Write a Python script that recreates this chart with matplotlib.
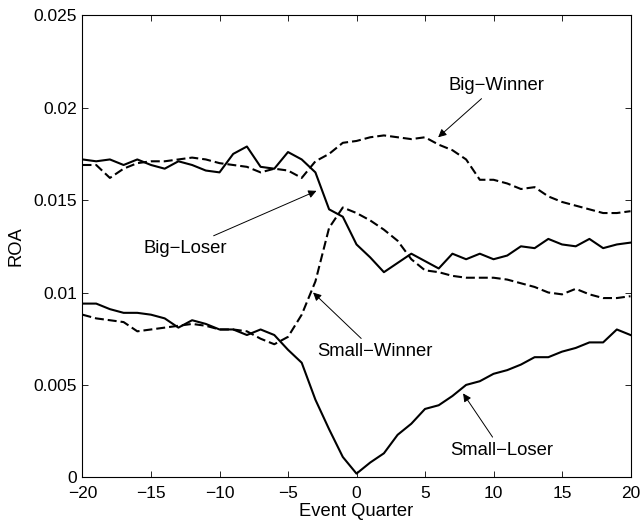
import matplotlib
matplotlib.use("Agg")
import matplotlib.pyplot as plt
import numpy as np

plt.rcParams['font.family'] = ['Liberation Sans', 'DejaVu Sans']
plt.rcParams['font.size'] = 12.5

# event quarters
quarters = np.arange(-20, 21)

# ROA series
big_winner = [0.0169, 0.0169, 0.0162, 0.0167, 0.0170, 0.0171, 0.0171, 0.0172, 0.0173, 0.0172,
              0.0170, 0.0169, 0.0168, 0.0165, 0.0167, 0.0166, 0.0162, 0.0171, 0.0175, 0.0181,
              0.0182, 0.0184, 0.0185, 0.0184, 0.0183, 0.0184, 0.0180, 0.0177, 0.0172, 0.0161,
              0.0161, 0.0159, 0.0156, 0.0157, 0.0152, 0.0149, 0.0147, 0.0145, 0.0143, 0.0143,
              0.0144]
big_loser = [0.0172, 0.0171, 0.0172, 0.0169, 0.0172, 0.0169, 0.0167, 0.0171, 0.0169, 0.0166,
             0.0165, 0.0175, 0.0179, 0.0168, 0.0167, 0.0176, 0.0172, 0.0165, 0.0145, 0.0141,
             0.0126, 0.0119, 0.0111, 0.0116, 0.0121, 0.0117, 0.0113, 0.0121, 0.0118, 0.0121,
             0.0118, 0.0120, 0.0125, 0.0124, 0.0129, 0.0126, 0.0125, 0.0129, 0.0124, 0.0126,
             0.0127]
small_winner = [0.0088, 0.0086, 0.0085, 0.0084, 0.0079, 0.0080, 0.0081, 0.0082, 0.0083, 0.0082,
                0.0080, 0.0080, 0.0079, 0.0075, 0.0072, 0.0076, 0.0088, 0.0106, 0.0135, 0.0146,
                0.0143, 0.0139, 0.0134, 0.0128, 0.0118, 0.0112, 0.0111, 0.0109, 0.0108, 0.0108,
                0.0108, 0.0107, 0.0105, 0.0103, 0.0100, 0.0099, 0.0102, 0.0099, 0.0097, 0.0097,
                0.0098]
small_loser = [0.0094, 0.0094, 0.0091, 0.0089, 0.0089, 0.0088, 0.0086, 0.0081, 0.0085, 0.0083,
               0.0080, 0.0080, 0.0077, 0.0080, 0.0077, 0.0069, 0.0062, 0.0042, 0.0026, 0.0011,
               0.0002, 0.0008, 0.0013, 0.0023, 0.0029, 0.0037, 0.0039, 0.0044, 0.0050, 0.0052,
               0.0056, 0.0058, 0.0061, 0.0065, 0.0065, 0.0068, 0.0070, 0.0073, 0.0073, 0.0080,
               0.0077]

xticks = [-20, -15, -10, -5, 0, 5, 10, 15, 20]
yticks = [0, 0.005, 0.01, 0.015, 0.02, 0.025]
ytick_labels = ['0', '0.005', '0.01', '0.015', '0.02', '0.025']

fig = plt.figure(figsize=(6.43, 5.22), dpi=100)
ax = fig.add_axes([0.1283, 0.0856, 0.8523, 0.8851])

dash = (4.3, 1.9)
ax.plot(quarters, big_winner, color='k', lw=1.5, linestyle='--', dashes=dash)
ax.plot(quarters, big_loser, color='k', lw=1.5)
ax.plot(quarters, small_winner, color='k', lw=1.5, linestyle='--', dashes=dash)
ax.plot(quarters, small_loser, color='k', lw=1.5)

ax.set_xlim(-20, 20)
ax.set_ylim(0, 0.025)
ax.set_xticks(xticks)
ax.set_yticks(yticks)
ax.set_yticklabels(ytick_labels)

ax.tick_params(direction='in', length=4, width=0.6, top=True, right=True, pad=6)
ax.tick_params(axis='y', pad=4)
for s in ax.spines.values():
    s.set_linewidth(0.8)

ax.set_xlabel('Event Quarter', fontsize=13.2)
ax.set_ylabel('ROA', fontsize=13.2)
ax.xaxis.set_label_coords(0.5, -0.056)
ax.yaxis.set_label_coords(-0.105, 0.5)

# text arrows
arrow = dict(arrowstyle='-|>', color='k', lw=0.7, mutation_scale=12, shrinkA=2, shrinkB=0)
fs = 13.3
ax.annotate('Big\u2212Winner', xy=(5.96, 0.0184), xytext=(10.2, 0.0212),
            ha='center', va='center', fontsize=fs, arrowprops=arrow)
ax.annotate('Big\u2212Loser', xy=(-2.92, 0.0155), xytext=(-12.5, 0.0124),
            ha='center', va='center', fontsize=fs, arrowprops=arrow)
ax.annotate('Small\u2212Winner', xy=(-3.17, 0.0100), xytext=(1.35, 0.0068),
            ha='center', va='center', fontsize=fs, arrowprops=arrow)
ax.annotate('Small\u2212Loser', xy=(7.78, 0.00454), xytext=(10.6, 0.00144),
            ha='center', va='center', fontsize=fs, arrowprops=arrow)

fig.savefig('out.png', dpi=100)
